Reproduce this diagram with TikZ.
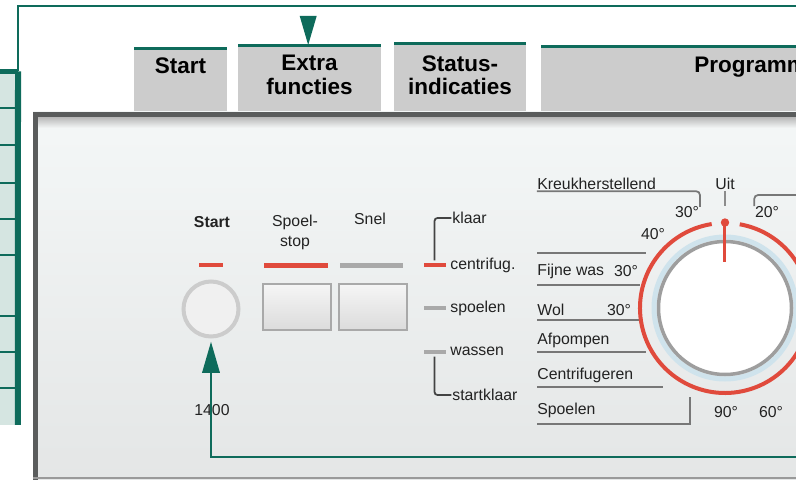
\documentclass[tikz,border=0pt]{standalone}
\usepackage{fontspec}
\setmainfont{Liberation Sans}
\usetikzlibrary{positioning}
\definecolor{groen}{HTML}{0E6B5B}
\definecolor{tabelgroen}{HTML}{D5E5E1}
\definecolor{tabgrijs}{HTML}{CCCCCC}
\definecolor{paneelboven}{HTML}{F4F7F7}
\definecolor{paneelonder}{HTML}{E4E6E6}
\definecolor{rand}{HTML}{5A5C5C}
\definecolor{rood}{HTML}{E04A3C}
\definecolor{streepgrijs}{HTML}{A9A9A9}
\definecolor{inkt}{HTML}{222222}
\definecolor{lijngrijs}{HTML}{777777}
\definecolor{lichtblauw}{HTML}{CFE3EC}
\begin{document}
\begin{tikzpicture}[scale=0.2]
\tikzstyle{every node}+=[inner sep=0pt]
\tikzstyle{groenlijn}=[groen, line width=0.4mm]
\tikzstyle{rij}=[fill=tabelgroen, minimum width=3.6mm, anchor=north west, outer sep=0pt]
\tikzstyle{tab}=[fill=tabgrijs, anchor=north west, outer sep=0pt, path picture={\draw[groen, line width=0.8mm] (path picture bounding box.north west) -- (path picture bounding box.north east);}]
\tikzstyle{tablabel}=[anchor=north, align=center, text=black, font=\fontsize{12.8}{13.4}\selectfont\bfseries]
\tikzstyle{opdruk}=[text=inkt, font=\fontsize{9}{11.4}\selectfont]
\tikzstyle{lamp}=[minimum height=0.9mm, fill=rood]
\tikzstyle{lampuit}=[minimum height=0.9mm, fill=streepgrijs]
\tikzstyle{toets}=[draw=streepgrijs, line width=0.4mm, top color=white!96!black, bottom color=white!86!black, minimum width=13.6mm, minimum height=9.2mm]
\tikzstyle{lijntje}=[lijngrijs, line width=0.35mm]
\tikzstyle{haak}=[inkt!85!white, line width=0.35mm, rounded corners=0.6mm]
\useasboundingbox (0,0) rectangle (79.6,-48);
\clip (0,0) rectangle (79.6,-48);
% tabel links
\node[rij, minimum height=7.3mm] (r1) at (0,-7.15) {};
\node[rij, minimum height=7.4mm, below=0pt of r1] (r2) {};
\node[rij, minimum height=7.6mm, below=0pt of r2] (r3) {};
\node[rij, minimum height=7.2mm, below=0pt of r3] (r4) {};
\node[rij, minimum height=7.2mm, below=0pt of r4] (r5) {};
\node[rij, minimum height=12.2mm, below=0pt of r5] (r6) {};
\node[rij, minimum height=7.2mm, below=0pt of r6] (r7) {};
\node[rij, minimum height=7.2mm, below=0pt of r7] (r8) {};
\node[rij, minimum height=7.4mm, below=0pt of r8] (r9) {};
\draw[groen, line width=0.3mm] (r1.south west) -- (r1.south east);
\draw[groen, line width=0.3mm] (r2.south west) -- (r2.south east);
\draw[groen, line width=0.3mm] (r3.south west) -- (r3.south east);
\draw[groen, line width=0.3mm] (r4.south west) -- (r4.south east);
\draw[groen, line width=0.3mm] (r5.south west) -- (r5.south east);
\draw[groen, line width=0.3mm] (r6.south west) -- (r6.south east);
\draw[groen, line width=0.3mm] (r7.south west) -- (r7.south east);
\draw[groen, line width=0.3mm] (r8.south west) -- (r8.south east);
\draw[groen, line width=1mm] (r1.north west) -- (r1.north east);
\draw[groen, line width=1.2mm] (r1.north east) -- (r9.south east);
% tabs
\node[tab, minimum width=18.6mm, minimum height=12.8mm] (tStart) at (13.4,-4.8) {};
\node[tab, minimum width=28.6mm, minimum height=13.4mm] (tExtra) at (23.8,-4.5) {};
\node[tab, minimum width=26.4mm, minimum height=13.8mm] (tStatus) at (39.4,-4.3) {};
\node[tab, minimum width=52mm, minimum height=13.2mm] (tProgramma) at (54.1,-4.6) {};
\node[tablabel, below=1.8mm of tStart.north] (lStart) {Start};
\node[tablabel, below=2mm of tExtra.north] (lExtra) {Extra\\functies};
\node[tablabel, below=2.4mm of tStatus.north] (lStatus) {Status-\\indicaties};
\node[tablabel, anchor=north west] (lProgramma) at (69.4,-5.7) {Programma};
% paneel
\shade[top color=paneelboven, bottom color=paneelonder] (3.3,-11.2) rectangle (80,-48);
\shade[top color=white!72!black, bottom color=paneelboven] (3.8,-11.7) rectangle (80,-12.8);
\draw[rand, line width=1mm] (3.55,-48) -- (3.55,-11.45) -- (80,-11.45);
\draw[white!60!black, line width=0.5mm] (3.3,-47.8) -- (80,-47.8);
% start
\node[opdruk, font=\fontsize{9}{11.4}\selectfont\bfseries] (pStart) at (21.2,-22.2) {Start};
\node[lamp, minimum width=4.8mm] (lampStart) at (21.1,-26.5) {};
\node[circle, minimum size=11mm, fill=white!94!black, draw=white!80!black, line width=0.8mm] (startknop) at (21.1,-30.9) {};
\node[opdruk] (p1400) at (21.2,-41.0) {1400};
% extra functies
\node[opdruk, align=center] (pSpoelstop) at (29.5,-23.2) {Spoel-\\stop};
\node[opdruk] (pSnel) at (37.0,-21.9) {Snel};
\node[lamp, minimum width=12.8mm] (lampSpoel) at (29.6,-26.55) {};
\node[lampuit, minimum width=12.6mm] (lampSnel) at (37.15,-26.55) {};
\node[toets] (toetsSpoel) at (29.65,-30.75) {};
\node[toets] (toetsSnel) at (37.25,-30.75) {};
% status
\node[lamp, minimum width=4.4mm] (sCentr) at (43.45,-26.5) {};
\node[lampuit, minimum width=4.4mm] (sSpoel) at (43.45,-30.8) {};
\node[lampuit, minimum width=4.4mm] (sWas) at (43.45,-35.2) {};
\node[opdruk, anchor=west] (tKlaar) at (45.2,-21.8) {klaar};
\node[opdruk, anchor=west] (tCentr) at (45.0,-26.5) {centrifug.};
\node[opdruk, anchor=west] (tSpoel) at (45.0,-30.8) {spoelen};
\node[opdruk, anchor=west] (tWas) at (45.0,-35.1) {wassen};
\node[opdruk, anchor=west] (tStartklaar) at (45.2,-39.5) {startklaar};
\draw[haak] ([xshift=-0.6mm]tKlaar.west) -| ([yshift=2mm]sCentr.north);
\draw[haak] ([yshift=-2mm]sWas.south) |- ([xshift=-0.6mm]tStartklaar.west);
% programma's
\node[opdruk, anchor=west] (pKreuk) at (53.7,-18.4) {Kreukherstellend};
\draw[lijntje, rounded corners=0.8mm] ([yshift=-1mm]pKreuk.south west) -| (70.0,-20.7);
\node[opdruk] (p30boven) at (68.7,-21.2) {30°};
\node[opdruk] (pUit) at (72.5,-18.4) {Uit};
\draw[white!55!black, line width=0.3mm] ([yshift=-0.8mm]pUit.south) -- ++(0,-1.5);
\node[opdruk] (p20) at (76.7,-21.2) {20°};
\draw[lijntje, rounded corners=0.8mm] ([xshift=-0.5mm]p20.north west) |- (80,-19.5);
\node[opdruk] (p40) at (65.3,-23.4) {40°};
\draw[lijntje] (53.7,-25.3) -- (64.6,-25.3);
\node[opdruk, anchor=west] (pFijne) at (53.7,-27.1) {Fijne was};
\node[opdruk] (p30fijn) at (62.6,-27.1) {30°};
\draw[lijntje] (53.7,-28.5) -- (64.0,-28.5);
\node[opdruk, anchor=west] (pWol) at (53.7,-31.0) {Wol};
\node[opdruk] (p30wol) at (61.9,-31.0) {30°};
\draw[lijntje] (53.7,-32.0) -- (64.3,-32.0);
\node[opdruk, anchor=west] (pAfpompen) at (53.7,-34.0) {Afpompen};
\draw[lijntje] (53.7,-35.2) -- (64.6,-35.2);
\node[opdruk, anchor=west] (pCentrifugeren) at (53.7,-37.5) {Centrifugeren};
\draw[lijntje] (53.7,-38.7) -- (66.3,-38.7);
\node[opdruk, anchor=west] (pSpoelen) at (53.7,-41.0) {Spoelen};
\draw[lijntje] (53.7,-42.4) -| (69.0,-39.7);
\node[opdruk] (p90) at (72.6,-41.2) {90°};
\node[opdruk] (p60) at (77.1,-41.2) {60°};
% draaiknop
\node[circle, minimum size=28.4mm, draw=lichtblauw, line width=1mm] (halo) at (72.5,-30.8) {};
\node[circle, minimum size=26.6mm, fill=white, draw=white!62!black, line width=0.7mm] (draaiknop) at (72.5,-30.8) {};
\draw[rood, line width=0.8mm] (draaiknop.center) ++(99:8.5) arc (99:440:8.5);
\fill[rood] (draaiknop.center) ++(0,8.55) circle (0.42);
\draw[rood, line width=0.6mm] (draaiknop.center) ++(0,8.5) -- ++(0,-3.9);
% verbindingen
\coordinate (rechtsboven) at (79.6,-0.65);
\coordinate (rechtsonder) at (79.6,-45.7);
\draw[groenlijn] (r1.north east) |- (rechtsboven);
\draw[groenlijn] ([xshift=-1.3mm,yshift=5mm]tExtra.north) -- ++(0,1.4);
\fill[groen] ([xshift=-1.3mm]tExtra.north) -- ++(-0.85,2.9) -- ++(1.7,0) -- cycle;
\draw[groenlijn] (rechtsonder) -| ([yshift=-9mm]startknop.south);
\fill[groen] ([yshift=-3.35mm]startknop.south) -- ++(-0.9,-3.1) -- ++(1.8,0) -- cycle;
\end{tikzpicture}
\end{document}
